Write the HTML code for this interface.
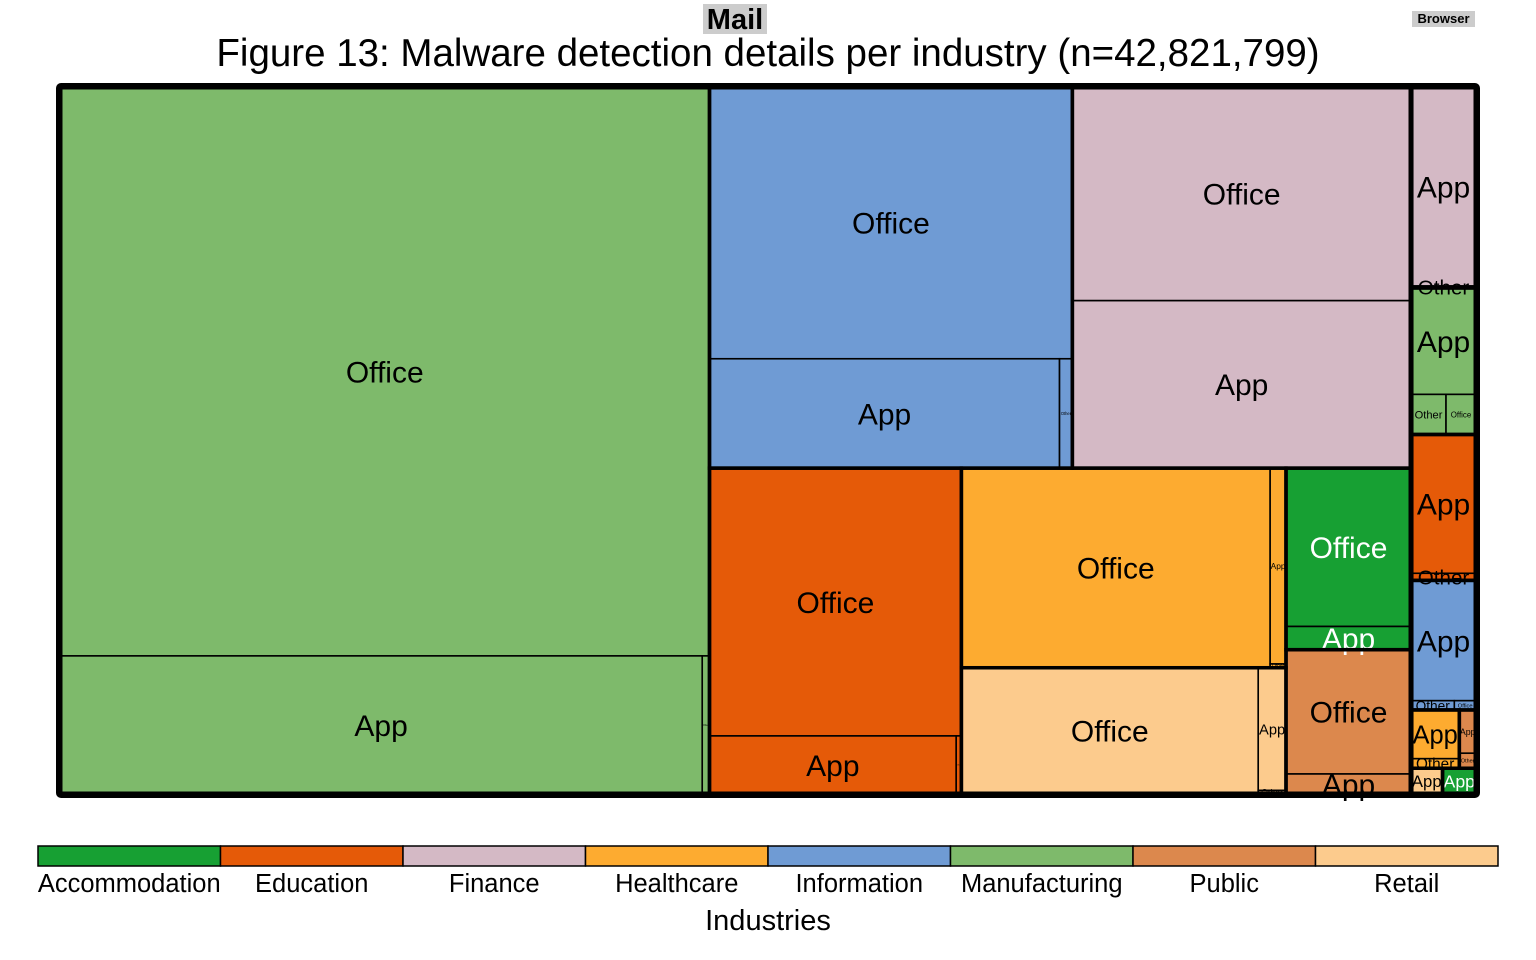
<!DOCTYPE html>
<html><head><meta charset="utf-8"><style>
body{margin:0;background:#fff;}
svg{display:block;font-family:"Liberation Sans",sans-serif;}
</style></head><body>
<svg id="chart" width="1536" height="960" viewBox="0 0 1536 960" xmlns="http://www.w3.org/2000/svg">
<rect x="703" y="4" width="64" height="30" fill="#cccccc"/>
<text x="735" y="29" font-size="29" font-weight="bold" text-anchor="middle">Mail</text>
<rect x="1412" y="11" width="63" height="16" fill="#cccccc"/>
<text x="1443.5" y="23" font-size="13" font-weight="bold" text-anchor="middle">Browser</text>
<text x="768" y="66" font-size="38.5" text-anchor="middle">Figure 13: Malware detection details per industry (n=42,821,799)</text>
<g id="tm"></g>
<g id="legend"></g>
<text x="768" y="930" font-size="29" text-anchor="middle">Industries</text>
</svg>
<script>
// industries: 0 Accommodation,1 Education,2 Finance,3 Healthcare,4 Information,5 Manufacturing,6 Public,7 Retail
const industries = ["Accommodation","Education","Finance","Healthcare","Information","Manufacturing","Public","Retail"];
const colors = ["#17a033","#e55a08","#d4b9c5","#fdab30","#6f9bd4","#7eba6b","#dc884d","#fccb8d"];
const mailOffice = [19.75,67.3,72.2,61.5,98.4,368.7,15.5,37.4];
const mailApp    = [2.9,14.3,56.6,3.1,38.2,88.5,2.5,3.4];
const mailOther  = [0,0.3,0,0.06,1.4,1.0,0,0.1];
const browserApp    = [0.86,9.0,12.9,2.35,7.8,6.9,0.72,0.81];
const browserOther  = [0,0.46,0.13,0.46,0.4,1.4,0.25,0];
const browserOffice = [0,0,0,0,0.2,1.2,0,0];

function L(arr,name,i){return {leaf:true,name:name,ind:i,value:arr[i]};}
function N(dir,kids,extra){const n={dir:dir,children:kids.filter(k=>k.value>0||!k.leaf)};Object.assign(n,extra||{});n.value=n.children.reduce((s,c)=>s+c.value,0);return n;}
function ind(i,node){node.industry=i;return node;}

const mailTree = N('h',[
  ind(5,N('v',[L(mailOffice,'Office',5),N('h',[L(mailApp,'App',5),L(mailOther,'Other',5)])])),
  N('v',[
    N('h',[
      ind(4,N('v',[L(mailOffice,'Office',4),N('h',[L(mailApp,'App',4),L(mailOther,'Other',4)])])),
      ind(2,N('v',[L(mailOffice,'Office',2),L(mailApp,'App',2)]))
    ]),
    N('h',[
      ind(1,N('v',[L(mailOffice,'Office',1),N('h',[L(mailApp,'App',1),L(mailOther,'Other',1)])])),
      N('v',[
        ind(3,N('h',[L(mailOffice,'Office',3),N('v',[L(mailApp,'App',3),L(mailOther,'Other',3)])])),
        ind(7,N('h',[L(mailOffice,'Office',7),N('v',[L(mailApp,'App',7),L(mailOther,'Other',7)])]))
      ]),
      N('v',[
        ind(0,N('v',[L(mailOffice,'Office',0),L(mailApp,'App',0)])),
        ind(6,N('v',[L(mailOffice,'Office',6),L(mailApp,'App',6)]))
      ])
    ])
  ])
],{group:'mail'});

const browserTree = N('v',[
  ind(2,N('v',[L(browserApp,'App',2),L(browserOther,'Other',2)])),
  ind(5,N('v',[L(browserApp,'App',5),N('h',[L(browserOther,'Other',5),L(browserOffice,'Office',5)])])),
  ind(1,N('v',[L(browserApp,'App',1),L(browserOther,'Other',1)])),
  ind(4,N('v',[L(browserApp,'App',4),N('h',[L(browserOther,'Other',4),L(browserOffice,'Office',4)])])),
  N('h',[
    ind(3,N('v',[L(browserApp,'App',3),L(browserOther,'Other',3)])),
    ind(6,N('v',[L(browserApp,'App',6),L(browserOther,'Other',6)]))
  ]),
  N('h',[
    ind(7,N('v',[L(browserApp,'App',7)])),
    ind(0,N('v',[L(browserApp,'App',0)]))
  ])
],{group:'browser'});

const root = N('h',[mailTree,browserTree]);
const NS="http://www.w3.org/2000/svg";
const tm=document.getElementById('tm');
const X0=60,Y0=87,X1=1476,Y1=794;
const borders=[];
const labels=[];

function layout(node,x,y,w,h,indIdx){
  if(node.industry!==undefined) indIdx=node.industry;
  if(node.leaf){
    const r=document.createElementNS(NS,'rect');
    r.setAttribute('x',x);r.setAttribute('y',y);r.setAttribute('width',Math.max(w,0));r.setAttribute('height',Math.max(h,0));
    r.setAttribute('fill',colors[indIdx]);r.setAttribute('stroke','#000');r.setAttribute('stroke-width','1.6');
    
    
    tm.appendChild(r);
    if(w>4&&h>2){
      const fs=Math.min(30,w*0.92/(node.name.length*0.58));
      const t=document.createElementNS(NS,'text');
      t.setAttribute('x',x+w/2);t.setAttribute('y',y+h/2+fs*0.36);
      t.setAttribute('font-size',fs.toFixed(1));t.setAttribute('text-anchor','middle');
      t.setAttribute('fill',indIdx===0?'#fff':'#000');
      t.textContent=node.name;
      
      
      labels.push(t);
    }
    return;
  }
  let off=0;
  node.children.forEach(c=>{
    const f=c.value/node.value;
    if(node.dir==='h'){layout(c,x+off,y,w*f,h,indIdx);off+=w*f;}
    else{layout(c,x,y+off,w,h*f,indIdx);off+=h*f;}
  });
  if(node.industry!==undefined) borders.push([x,y,w,h,3.5,'industry-border-'+industries[node.industry].toLowerCase()]);
  if(node.group) borders.push([x,y,w,h,5,node.group+'-group-border']);
}
layout(root,X0,Y0,X1-X0,Y1-Y0);
labels.forEach(t=>tm.appendChild(t));
borders.forEach(b=>{
  const r=document.createElementNS(NS,'rect');
  r.setAttribute('x',b[0]);r.setAttribute('y',b[1]);r.setAttribute('width',b[2]);r.setAttribute('height',b[3]);
  r.setAttribute('fill','none');r.setAttribute('stroke','#000');r.setAttribute('stroke-width',b[4]);
  
  
  tm.appendChild(r);
});
const outer=document.createElementNS(NS,'rect');
outer.setAttribute('x',X0-1);outer.setAttribute('y',Y0-1);outer.setAttribute('width',X1-X0+2);outer.setAttribute('height',Y1-Y0+2);
outer.setAttribute('fill','none');outer.setAttribute('stroke','#000');outer.setAttribute('stroke-width','6');outer.setAttribute('rx','2');


tm.appendChild(outer);

const lg=document.getElementById('legend');
const LX0=38,LX1=1498,bw=(LX1-LX0)/industries.length;
industries.forEach((nm,i)=>{
  const r=document.createElementNS(NS,'rect');
  r.setAttribute('x',LX0+i*bw);r.setAttribute('y',846);r.setAttribute('width',bw);r.setAttribute('height',20);
  r.setAttribute('fill',colors[i]);r.setAttribute('stroke','#000');r.setAttribute('stroke-width','1.5');
  
  
  lg.appendChild(r);
  const t=document.createElementNS(NS,'text');
  t.setAttribute('x',LX0+i*bw+bw/2);t.setAttribute('y',892);t.setAttribute('font-size','25.5');t.setAttribute('text-anchor','middle');
  t.textContent=nm;
  
  
  lg.appendChild(t);
});
</script>
</body></html>
